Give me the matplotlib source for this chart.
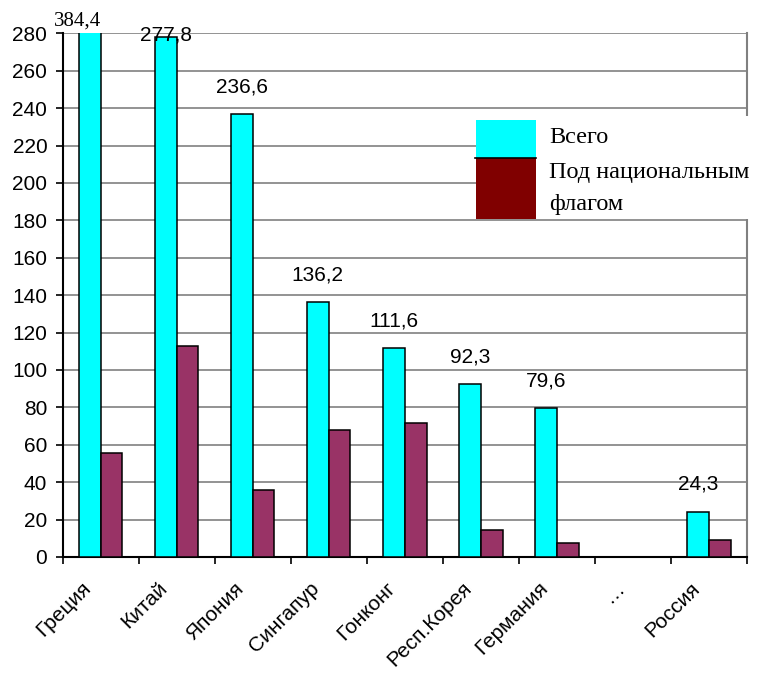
import numpy as np
import matplotlib
matplotlib.use("Agg")
import matplotlib.pyplot as plt
import matplotlib.transforms as mtransforms
from matplotlib.patches import Rectangle
from matplotlib.lines import Line2D

# data
countries = ["Греция", "Китай", "Япония", "Сингапур", "Гонконг",
             "Респ.Корея", "Германия", "…", "Россия"]
total = [384.4, 277.8, 236.6, 136.2, 111.6, 92.3, 79.6, 0, 24.3]
national_flag = [55.5, 113, 36, 68, 71.5, 14.6, 7.3, 0, 9.3]
total_labels = ["384,4", "277,8", "236,6", "136,2", "111,6", "92,3", "79,6", "", "24,3"]
legend_names = ["Всего", "Под национальным", "флагом"]

cyan = "#00FFFF"
maroon = "#993366"
grid_gray = "#808080"

plt.rcParams["font.family"] = ["Liberation Sans", "DejaVu Sans"]

fig = plt.figure(figsize=(7.73, 6.73), dpi=100)
ax = fig.add_axes([0.0809, 0.1724, 0.9664 - 0.0809, 0.9505 - 0.1724])

x = np.arange(len(countries))
w = 2 / 7
ymax = 280

ax.bar(x - w / 2, total, w, color=cyan, edgecolor="black", linewidth=1.1, zorder=3)
ax.bar(x + w / 2, national_flag, w, color=maroon, edgecolor="black", linewidth=1.1, zorder=3)

# value labels over the "total" bars
for i, (v, lab) in enumerate(zip(total, total_labels)):
    if not lab:
        continue
    if v > ymax:
        # off-scale bar, label written at the top in a serif font
        ax.annotate(lab, (i - w / 2, ymax), xytext=(-9, 9), textcoords="offset points",
                    ha="center", va="center", fontsize=15, family="Liberation Serif",
                    annotation_clip=False)
    elif v > ymax - 20:
        ax.annotate(lab, (i - w / 2, v), xytext=(0, 2), textcoords="offset points",
                    ha="center", va="center", fontsize=15, annotation_clip=False, zorder=5)
    else:
        ax.annotate(lab, (i - w / 2, v), xytext=(0, 19.5), textcoords="offset points",
                    ha="center", va="center", fontsize=15, zorder=5)

ax.set_xlim(-0.5, len(countries) - 0.5)
ax.set_ylim(0, ymax)
ax.set_yticks(np.arange(0, ymax + 1, 20))
ax.yaxis.grid(True, color=grid_gray, linewidth=1.2, zorder=0)
ax.set_axisbelow(True)

# ticks between categories, labels at centers
ax.set_xticks(np.arange(-0.5, len(countries), 1))
ax.set_xticklabels([])
ax.set_xticks(x, minor=True)
ax.set_xticklabels(countries, minor=True, rotation=45, ha="right",
                   rotation_mode="anchor", fontsize=15)
ax.tick_params(axis="x", which="minor", length=0, pad=15.5)
ax.tick_params(axis="x", which="major", length=5, width=1.2, direction="out")
ax.tick_params(axis="y", length=5, width=1.2, direction="out", labelsize=15, pad=6)

shift = mtransforms.ScaledTranslation(-19 / 100, 0, fig.dpi_scale_trans)
for t in ax.get_xticklabels(minor=True):
    t.set_transform(t.get_transform() + shift)

ax.spines["top"].set_visible(False)
ax.spines["left"].set_linewidth(1.5)
ax.spines["bottom"].set_linewidth(1.5)
ax.spines["right"].set_color(grid_gray)
ax.spines["right"].set_linewidth(1.5)

# hand-made legend box, in pixel units of the figure
W, H = 773.0, 673.0

def fx(px):
    return px / W

def fy(py):
    return 1 - py / H

fig.add_artist(Rectangle((fx(476), fy(219)), fx(773) - fx(476), fy(116) - fy(219),
                         transform=fig.transFigure, facecolor="white", edgecolor="none", zorder=10))
fig.add_artist(Rectangle((fx(476), fy(157.5)), fx(536) - fx(476), fy(120) - fy(157.5),
                         transform=fig.transFigure, facecolor=cyan, edgecolor="none", zorder=11))
fig.add_artist(Rectangle((fx(476), fy(219)), fx(536) - fx(476), fy(157.5) - fy(219),
                         transform=fig.transFigure, facecolor="#800000", edgecolor="none", zorder=11))
fig.add_artist(Line2D([fx(475), fx(536)], [fy(157.5), fy(157.5)], transform=fig.transFigure,
                      color="black", linewidth=1.2, zorder=12))
for name, base in zip(legend_names, [143, 178, 210]):
    fig.text(fx(549), fy(base), name, ha="left", va="baseline", fontsize=17.5,
             family="Liberation Serif", zorder=12)

fig.savefig("out.png", dpi=100)
